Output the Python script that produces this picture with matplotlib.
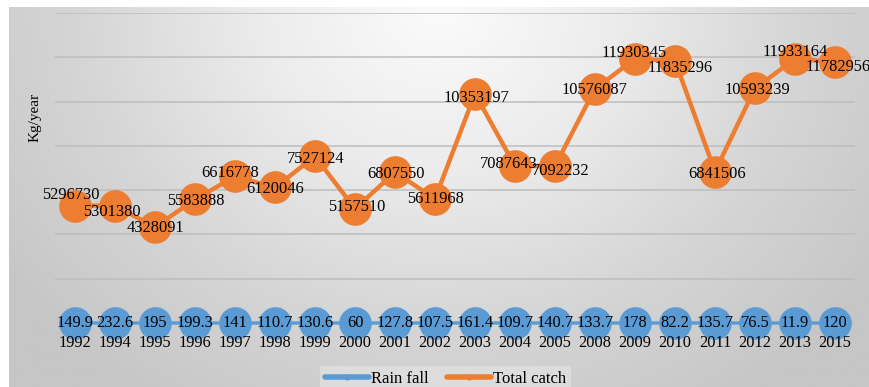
import numpy as np
import matplotlib.pyplot as plt
from matplotlib.colors import LinearSegmentedColormap

plt.rcParams['font.family'] = ['Liberation Serif', 'DejaVu Serif']

years = ['1992', '1994', '1995', '1996', '1997', '1998', '1999', '2000', '2001', '2002',
         '2003', '2004', '2005', '2008', '2009', '2010', '2011', '2012', '2013', '2015']
rain_fall = [149.9, 232.6, 195, 199.3, 141, 110.7, 130.6, 60, 127.8, 107.5,
             161.4, 109.7, 140.7, 133.7, 178, 82.2, 135.7, 76.5, 11.9, 120]
total_catch = [5296730, 5301380, 4328091, 5583888, 6616778, 6120046, 7527124, 5157510,
               6807550, 5611968, 10353197, 7087643, 7092232, 10576087, 11930345,
               11835296, 6841506, 10593239, 11933164, 11782956]

# small nudges (pixels) for the catch labels so they don't sit on each other
catch_nudge = [(-4, 11), (-3, -6), (0, -1), (1, -2), (-5, 3), (0, -2), (1, -3), (2, 2),
               (1, -2), (1, 0), (1, -4), (-6, 2), (6, -5), (0, -1), (-1, 6), (5, -7),
               (2, -2), (2, -2), (0, 7), (3, -5)]

BLUE = '#5b9bd5'
ORANGE = '#ed7d31'

fig = plt.figure(figsize=(8.69, 3.87), dpi=100)

# grey radial backdrop, light at the top centre
bg = fig.add_axes([9 / 869, 0, 860 / 869, 380 / 387], zorder=0)
yy, xx = np.mgrid[0:1:300j, 0:1:600j]
r = np.sqrt(((xx - 0.5) / 0.62) ** 2 + (yy / 1.25) ** 2)
cmap = LinearSegmentedColormap.from_list('bg', ['#fbfbfb', '#ececec', '#d6d6d6', '#c6c6c6'])
bg.imshow(np.clip(r, 0, 1), cmap=cmap, vmin=0, vmax=1, aspect='auto', origin='upper',
          extent=[0, 1, 0, 1])
bg.axis('off')

ax = fig.add_axes([55 / 869, 64 / 387, 800 / 869, 310 / 387], zorder=1)
ax.set_facecolor('none')
x = np.arange(len(years))

ax.plot(x, rain_fall, color=BLUE, lw=2.4, marker='o', ms=22.5, mec=BLUE, label='Rain fall',
        solid_capstyle='round', clip_on=False, zorder=3)
ax.plot(x, total_catch, color=ORANGE, lw=3.2, marker='o', ms=22.5, mec=ORANGE, label='Total catch',
        solid_capstyle='round', clip_on=False, zorder=3)

for xi, v in zip(x, rain_fall):
    ax.text(xi, v, f'{v:g}', ha='center', va='center', fontsize=11.8, zorder=5)
for xi, v, (dx, dy) in zip(x, total_catch, catch_nudge):
    ax.annotate(str(v), (xi, v), xytext=(dx, dy), textcoords='offset pixels',
                ha='center', va='center', fontsize=11.8, zorder=5, annotation_clip=False)

ax.set_xlim(-0.5, len(years) - 0.5)
ax.set_ylim(0, 14000000)
ax.set_yticks(np.arange(0, 14000001, 2000000))
ax.set_yticklabels([])
ax.set_xticks(x)
ax.set_xticklabels(years, fontsize=11.8)
ax.tick_params(axis='both', length=0, pad=8.5)
ax.grid(axis='y', color='#bdbdbd', lw=1.1)
ax.set_axisbelow(True)
# year labels sit over the rain markers, grid stays underneath
ax.xaxis.set_zorder(6)
for s in ax.spines.values():
    s.set_visible(False)

fig.text(35 / 869, 1 - 117 / 387, 'Kg/year', rotation=90, ha='center', va='center', fontsize=11)

leg = fig.legend(loc='lower center', bbox_to_anchor=(0.513, -0.035), ncol=2, fontsize=12,
                 frameon=True, fancybox=False, handlelength=2.6, columnspacing=1.1,
                 markerscale=0.15, handletextpad=0.15, borderpad=0.3, borderaxespad=0.5)
leg.get_frame().set_facecolor('#e6e6e6')
leg.get_frame().set_edgecolor('none')
leg.get_frame().set_alpha(0.6)
for line in leg.get_lines():
    line.set_linewidth(4)

fig.savefig('out.png', dpi=100)
